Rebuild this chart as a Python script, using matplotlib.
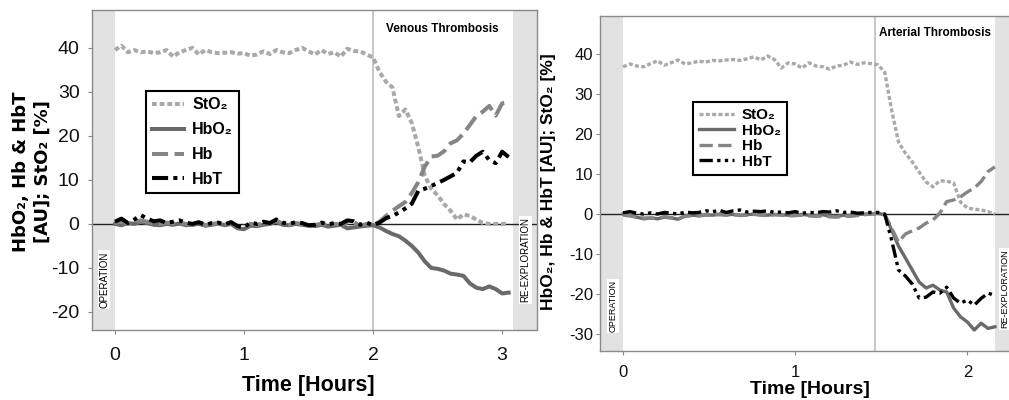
import numpy as np
import matplotlib
matplotlib.use('Agg')
import matplotlib.pyplot as plt

plt.rcParams['font.family'] = ['Liberation Sans', 'DejaVu Sans']
plt.rcParams['axes.unicode_minus'] = False

# ---- venous thrombosis panel (left), samples every 0.05 h
t_ven = np.round(np.arange(0, 3.1, 0.05), 2)
sto2_ven = [39.5, 40.5, 39.0, 39.5, 39.0, 39.2, 38.8, 39.0, 39.5, 38.0,
            39.0, 39.5, 40.0, 38.5, 39.5, 39.0, 38.8, 38.9, 39.0, 38.7,
            38.8, 38.2, 38.5, 39.2, 38.6, 39.5, 39.0, 38.8, 39.5, 40.0,
            39.2, 38.5, 39.5, 38.6, 39.0, 38.0, 39.8, 39.3, 39.2, 38.5,
            37.8, 34.5, 32.3, 31.0, 24.5, 26.0, 22.9, 17.5, 11.0, 8.0,
            6.5, 4.5, 3.0, 1.0, 2.2, 1.8, 1.0, 0.2, 0.0, 0.0,
            0.0, 0.0]
hbo2_ven = [0.0, -0.3, 0.2, 0.0, 0.5, 0.2, -0.2, -0.3, 0.0, -0.2,
            0.1, -0.3, -0.2, 0.0, -0.4, -0.2, 0.1, -0.3, 0.0, -1.0,
            -1.2, -0.4, -0.5, -0.2, 0.0, 0.5, -0.2, -0.3, 0.0, -0.2,
            -0.4, -0.5, -0.2, -0.6, -0.4, -0.2, -1.0, -0.8, -0.6, -0.4,
            -0.3, -0.8, -1.6, -2.3, -2.8, -3.8, -5.0, -6.5, -8.5, -10.0,
            -10.2, -10.6, -11.3, -11.5, -11.8, -13.5, -14.5, -14.8, -14.2, -14.8,
            -15.8, -15.6]
hb_ven = [0.2, 0.5, 0.0, 0.3, 0.8, 0.5, 0.1, 0.0, 0.3, 0.1,
          0.3, 0.0, -0.2, 0.2, -0.3, 0.0, 0.2, -0.2, 0.3, -0.6,
          -0.8, 0.0, -0.2, 0.2, 0.1, 0.8, 0.0, -0.2, 0.2, 0.0,
          -0.4, -0.3, 0.1, -0.3, 0.0, -0.1, 0.3, 0.4, -0.4, 0.0,
          -0.3, 0.5, 1.8, 3.0, 4.0, 5.0, 7.0, 9.5, 13.0, 15.3,
          15.5, 16.5, 18.3, 19.0, 20.5, 22.5, 24.5, 25.5, 26.8, 24.6,
          27.4, 27.6]
hbt_ven = [0.5, 1.2, 0.2, 1.0, 2.0, 1.2, 0.6, 0.8, 0.2, 0.5,
           0.8, 0.3, 0.0, 0.4, -0.2, 0.2, 0.3, -0.1, 0.4, -0.5,
           -0.8, 0.3, 0.0, 0.5, 0.2, 1.0, 0.3, 0.0, 0.4, 0.2,
           -0.3, -0.2, 0.3, -0.1, 0.2, 0.0, 0.8, 0.6, -0.2, 0.3,
           -0.3, 0.3, 1.3, 1.8, 2.6, 3.5, 4.6, 7.5, 8.0, 8.6,
           9.3, 10.0, 10.8, 11.6, 14.2, 14.0, 15.5, 16.4, 14.5, 13.8,
           16.4, 15.2]

# ---- arterial thrombosis panel (right), samples every 0.04 h
t_art = np.round(np.arange(0, 2.17, 0.04), 2)
sto2_art = [36.8, 37.5, 37.0, 36.8, 37.6, 38.3, 37.2, 37.8, 38.5, 37.5,
            37.8, 38.2, 38.0, 38.4, 38.3, 38.5, 38.6, 38.4, 38.8, 39.3,
            38.5, 39.5, 38.6, 36.5, 37.8, 37.5, 36.5, 37.8, 37.0, 36.8,
            36.2, 37.0, 37.2, 38.0, 37.4, 37.8, 37.6,
            37.3, 35.5, 26.0, 18.0, 15.2, 13.0, 10.5, 8.0, 6.8,
            8.3, 8.2, 7.8, 3.0, 1.5, 1.2, 1.0, 0.6, 0.0]
hbo2_art = [0.0, -0.3, -0.8, -1.2, -1.0, -1.2, -0.8, -1.0, -1.3, -0.5,
            -0.3, -0.4, -0.2, -0.3, 0.0, -0.2, -0.1, -0.3, -0.2, 0.0,
            -0.2, -0.3, -0.1, -0.2, -0.3, -0.2, -0.1, -0.3, -0.4, -0.2,
            -0.5, -0.6, -0.3, -0.4, -0.2, 0.0, 0.0,
            0.2, -0.2, -4.0, -8.0, -11.0, -14.0, -17.0, -18.5, -17.8,
            -19.0, -19.5, -23.5, -25.7, -27.0, -29.0, -27.3, -28.6, -28.2]
hb_art = [-0.3, -0.5, -0.8, -1.0, -1.0, -1.1, -0.7, -0.9, -1.2, -0.6,
          -0.4, -0.5, -0.3, -0.2, -0.2, -0.3, -0.2, -0.4, -0.3, -0.1,
          -0.3, -0.4, -0.2, -0.3, -0.5, -0.4, -0.3, -0.5, -0.6, -0.5,
          -0.7, -0.8, -0.5, -0.6, -0.4, -0.2, 0.0,
          0.2, -0.2, -3.5, -7.0, -5.0, -4.2, -3.5, -2.3, -1.5,
          0.2, 3.1, 3.5, 4.3, 5.5, 6.5, 8.1, 10.6, 11.8]
hbt_art = [0.3, 0.6, 0.2, 0.0, 0.3, 0.0, 0.4, 0.2, 0.0, 0.5,
           0.3, 0.4, 0.8, 0.6, 0.9, 0.4, 0.8, 1.0, 0.5, 0.7,
           0.6, 0.8, 0.4, 0.5, 0.3, 0.6, 0.2, 0.4, 0.3, 0.6,
           0.5, 0.8, 0.4, 0.5, 0.2, 0.3, 0.4,
           0.4, 0.0, -6.5, -14.0, -15.5, -17.5, -21.0, -20.8, -19.5,
           -19.8, -18.3, -21.0, -22.3, -21.5, -22.8, -21.1, -19.8, -20.3]

names = ['StO₂', 'HbO₂', 'Hb', 'HbT']
colors = ['#a9a9a9', '#6a6a6a', '#858585', '#000000']
styles = [(0, (1.2, 0.7)), '-', (0, (4, 1.6)), (0, (4, 1.3, 1, 1.3, 1, 1.3))]


def draw_panel(ax, t, series, lw, xlim, ylim, band_end, event, title, title_xy, title_fs,
               op_xy, re_xy, side_fs, tick_size, fs_leg, leg_anchor, leg_spacing,
               handlelen, yticks, xticks):
    ax.set_xlim(*xlim)
    ax.set_ylim(*ylim)
    ax.axvspan(xlim[0], 0, color='#e2e2e2', lw=0, zorder=0)
    ax.axvspan(band_end, xlim[1], color='#e2e2e2', lw=0, zorder=0)
    ax.axvline(event, color='#bdbdbd', lw=1.2, zorder=1)
    ax.axhline(0, color='#222222', lw=1.0, zorder=1)
    for vals, name, c, ls in zip(series, names, colors, styles):
        ax.plot(t, vals, color=c, ls=ls, lw=lw, label=name, zorder=3)
    leg = ax.legend(loc='upper left', bbox_to_anchor=leg_anchor, borderaxespad=0,
                    frameon=True, fancybox=False, edgecolor='black', framealpha=1,
                    handlelength=handlelen, handletextpad=0.5,
                    labelspacing=leg_spacing, borderpad=0.4,
                    prop={'weight': 'bold', 'size': fs_leg})
    leg.get_frame().set_linewidth(1.5)
    ax.text(title_xy[0], title_xy[1], title, ha='center', va='center',
            fontsize=title_fs, fontweight='bold')
    ax.text(op_xy[0], op_xy[1], 'OPERATION', rotation=90, ha='center', va='center',
            fontsize=side_fs, bbox=dict(facecolor='white', edgecolor='none', pad=1))
    ax.text(re_xy[0], re_xy[1], 'RE-EXPLORATION', rotation=90, ha='center', va='center',
            fontsize=side_fs, bbox=dict(facecolor='white', edgecolor='none', pad=1),
            clip_on=True)
    ax.set_yticks(yticks)
    ax.set_xticks(xticks)
    for s in ax.spines.values():
        s.set_color('#8a8a8a')
        s.set_linewidth(1.0)
    ax.tick_params(colors='#8a8a8a', length=3, width=0.8, labelcolor='#111111',
                   labelsize=tick_size)


fig = plt.figure(figsize=(10.09, 4.0), dpi=100)

ax1 = fig.add_axes([92 / 1009, 70 / 400, 445 / 1009, 320 / 400])
draw_panel(ax1, t_ven, [sto2_ven, hbo2_ven, hb_ven, hbt_ven], 2.9,
           (-0.178, 3.27), (-24.1, 48.6), 3.085, 2.0, 'Venous Thrombosis', (2.54, 44.3), 8.5,
           (-0.085, -12.7), (3.18, -8.2), 7, 14, 11.5, (0.121, 0.747), 0.62, 2.0,
           [-20, -10, 0, 10, 20, 30, 40], [0, 1, 2, 3])
ax1.tick_params(axis='x', pad=9)
ax1.tick_params(axis='y', pad=6)

ax2 = fig.add_axes([600 / 1009, 49 / 400, 419 / 1009, 335 / 400])
draw_panel(ax2, t_art, [sto2_art, hbo2_art, hb_art, hbt_art], 2.4,
           (-0.134, 2.3), (-34.25, 49.5), 2.163, 1.465, 'Arterial Thrombosis', (1.81, 45.3), 8.5,
           (-0.058, -23.0), (2.22, -18.75), 6.5, 12, 11, (0.222, 0.743), 0.1, 2.3,
           [-30, -20, -10, 0, 10, 20, 30, 40], [0, 1, 2])
ax2.tick_params(axis='x', pad=7)
ax2.tick_params(axis='y', pad=2)

fig.text(308 / 1009, 1 - 385 / 400, 'Time [Hours]', ha='center', va='center',
         fontsize=15.5, fontweight='bold')
fig.text(810 / 1009, 1 - 390 / 400, 'Time [Hours]', ha='center', va='center',
         fontsize=14, fontweight='bold')
fig.text(32 / 1009, 1 - 172 / 400, 'HbO₂, Hb & HbT\n[AU]; StO₂ [%]', rotation=90,
         ha='center', va='center', fontsize=13, fontweight='bold', linespacing=1.25,
         family='DejaVu Sans')
fig.text(548 / 1009, 1 - 182 / 400, 'HbO₂, Hb & HbT [AU]; StO₂ [%]', rotation=90,
         ha='center', va='center', fontsize=12.5, fontweight='bold')

fig.savefig('out.png', dpi=100)
